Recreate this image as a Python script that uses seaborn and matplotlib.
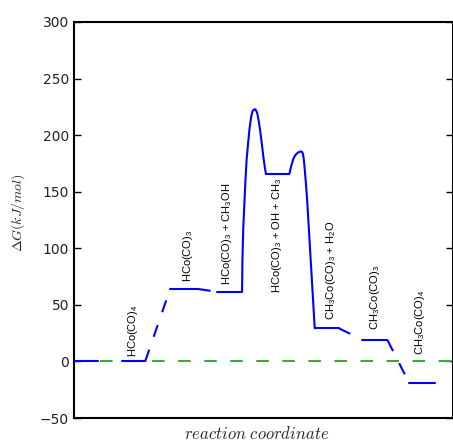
import pandas as pd
import matplotlib
matplotlib.use("Agg")
import matplotlib.pyplot as plt
import seaborn as sns

# --- data (reaction coordinate in arbitrary units, dG in kJ/mol) ---
level_start = [0.00, 1.27, 2.54, 3.78, 5.07, 6.36, 7.62, 8.86]
level_end = [0.64, 1.88, 3.28, 4.44, 5.69, 7.00, 8.28, 9.54]
level_G = [0.0, 0.0, 64.0, 61.6, 165.7, 29.3, 19.0, -19.4]

# dashed links between neighbouring levels (index of left level)
links = [1, 2, 5, 6]

# transition state curves
ts1_x = [4.44, 4.45, 4.47, 4.50, 4.53, 4.56, 4.60, 4.64, 4.68, 4.72,
         4.77, 4.80, 4.84, 4.88, 4.92, 4.96, 5.00, 5.04, 5.07]
ts1_G = [61.6, 89.7, 116.2, 138.3, 160.4, 178.1, 193.1, 206.4, 216.1, 221.4,
         222.9, 222.5, 219.6, 212.6, 203.7, 193.1, 181.6, 171.9, 165.7]
ts2_x = [5.69, 5.74, 5.80, 5.86, 5.93, 5.98, 6.02, 6.05, 6.07, 6.09,
         6.12, 6.16, 6.36]
ts2_G = [165.7, 172.8, 179.6, 182.9, 184.9, 185.5, 185.4, 183.4, 179.0, 172.1,
         160.4, 142.7, 29.3]

labels = [r"HCo(CO)$_\mathrm{4}$",
          r"HCo(CO)$_\mathrm{3}$",
          r"HCo(CO)$_\mathrm{3}$ + CH$_\mathrm{3}$OH",
          r"HCo(CO)$_\mathrm{3}$ + OH + CH$_\mathrm{3}$",
          r"CH$_\mathrm{3}$Co(CO)$_\mathrm{3}$ + H$_\mathrm{2}$O",
          r"CH$_\mathrm{3}$Co(CO)$_\mathrm{3}$",
          r"CH$_\mathrm{3}$Co(CO)$_\mathrm{4}$"]
label_x = [1.56, 3.00, 4.05, 5.37, 6.80, 7.94, 9.13]
label_G = [4.2, 70.2, 67.5, 60.5, 36.6, 27.8, 5.7]

yticks = [-50, 0, 50, 100, 150, 200, 250, 300]

sns.set_style("ticks")
plt.rcParams["font.family"] = ["DejaVu Sans"]
plt.rcParams["mathtext.fontset"] = "custom"
plt.rcParams["mathtext.rm"] = "Liberation Sans"
plt.rcParams["mathtext.it"] = "Liberation Sans:italic"

fig = plt.figure(figsize=(4.53, 4.44), dpi=100)
ax = fig.add_axes([74 / 453, 26 / 444, 378.5 / 453, 396 / 444])

blue = "#0000ff"
lw = 1.5
dash = (0, (6, 6.5))

# zero reference line
ax.axhline(0, color="#3fa73f", lw=lw, linestyle=dash, zorder=1)

# energy levels
for x0, x1, g in zip(level_start, level_end, level_G):
    seg = pd.DataFrame({"x": [x0, x1], "G": [g, g]})
    sns.lineplot(data=seg, x="x", y="G", color=blue, lw=lw, ax=ax,
                 estimator=None, sort=False, zorder=3)

# dashed links
for i in links:
    seg = pd.DataFrame({"x": [level_end[i], level_start[i + 1]],
                        "G": [level_G[i], level_G[i + 1]]})
    sns.lineplot(data=seg, x="x", y="G", color=blue, lw=lw, ax=ax,
                 estimator=None, sort=False, linestyle=dash, zorder=3)

# transition states
for xs, gs in [(ts1_x, ts1_G), (ts2_x, ts2_G)]:
    seg = pd.DataFrame({"x": xs, "G": gs})
    sns.lineplot(data=seg, x="x", y="G", color=blue, lw=lw, ax=ax,
                 estimator=None, sort=False, zorder=3)

for txt, lx, lg in zip(labels, label_x, label_G):
    ax.text(lx, lg, txt, rotation=90, ha="center", va="bottom",
            fontsize=8, family="Liberation Sans", color="black")

ax.set_xlim(0, 10)
ax.set_ylim(-50, 300)
ax.set_yticks(yticks)
ax.set_xticks([])
ax.tick_params(axis="y", direction="in", length=5, width=1, left=True,
               right=True, labelsize=10, colors="black", labelcolor="#222222")
for sp in ax.spines.values():
    sp.set_visible(True)
    sp.set_linewidth(1.5)
    sp.set_color("black")

ax.set_xlabel(r"$reaction\ coordinate$", fontsize=12, math_fontfamily="cm")
ax.set_ylabel(r"$\Delta G (kJ/mol)$", fontsize=10, math_fontfamily="cm")
ax.xaxis.set_label_coords(0.483, -0.017, transform=ax.transAxes)
ax.xaxis.label.set_va("top")
ax.yaxis.set_label_coords(-0.124, 0.518, transform=ax.transAxes)

fig.savefig("out.png", dpi=100)
